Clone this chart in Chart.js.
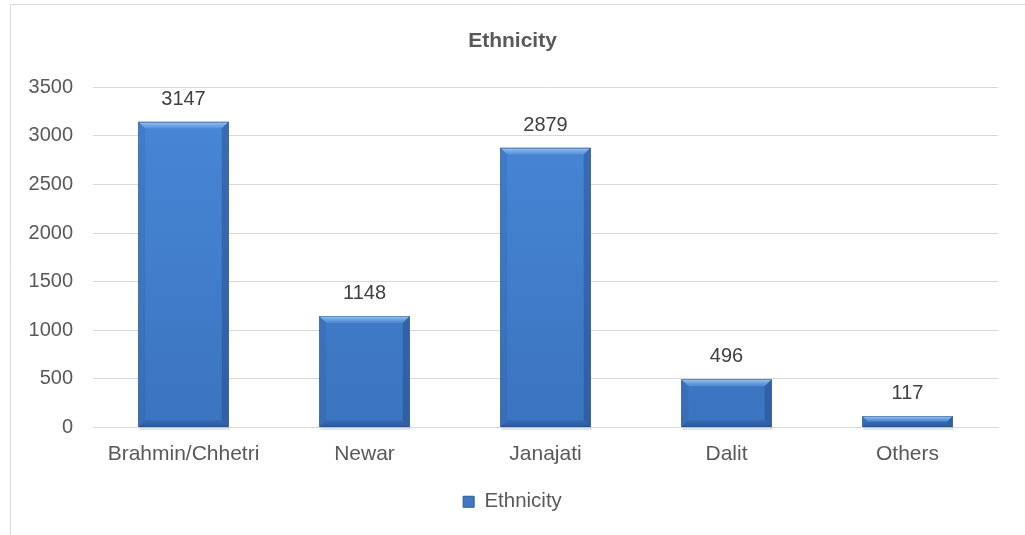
<!DOCTYPE html>
<html>
<head>
<meta charset="utf-8">
<title>Ethnicity</title>
<script src="https://cdn.jsdelivr.net/npm/chart.js@4.4.1/dist/chart.umd.min.js"></script>
<style>
    html, body { margin: 0; padding: 0; background: #fff; overflow: hidden; }
    #wrap { width: 1025px; height: 535px; position: relative; }
</style>
</head>
<body>
<div id="wrap"><canvas id="ethChart"></canvas></div>
<script>
// Data
const categories = ['Brahmin/Chhetri', 'Newar', 'Janajati', 'Dalit', 'Others'];
const counts = [3147, 1148, 2879, 496, 117];
const seriesName = 'Ethnicity';
const yTicks = [0, 500, 1000, 1500, 2000, 2500, 3000, 3500];

const FONT = "'Liberation Sans', Arial, sans-serif";

// Outer chart box (only left and top edges show in the picture)
const frameBorder = {
    id: 'frameBorder',
    beforeDraw(chart) {
        const ctx = chart.ctx;
        ctx.save();
        ctx.strokeStyle = '#d9d9d9';
        ctx.lineWidth = 1;
        ctx.beginPath();
        ctx.moveTo(10.5, chart.height);
        ctx.lineTo(10.5, 4.5);
        ctx.lineTo(chart.width, 4.5);
        ctx.stroke();
        ctx.restore();
    }
};

// Bevel look on each bar, using the bar elements the library laid out
const bevelBars = {
    id: 'bevelBars',
    beforeDatasetsDraw(chart) {
        // soft shadow under each bar
        const ctx = chart.ctx;
        const meta = chart.getDatasetMeta(0);
        ctx.save();
        ctx.fillStyle = 'rgba(0,0,0,0.10)';
        meta.data.forEach(function(bar) {
            const p = bar.getProps(['x', 'base', 'width'], true);
            ctx.fillRect(p.x - p.width / 2 + 1, p.base, p.width, 3);
        });
        ctx.restore();
    },
    afterDatasetsDraw(chart) {
        const ctx = chart.ctx;
        const meta = chart.getDatasetMeta(0);
        meta.data.forEach(function(bar) {
            const p = bar.getProps(['x', 'y', 'base', 'width'], true);
            const l = p.x - p.width / 2, r = p.x + p.width / 2;
            const t = p.y, b = p.base;
            const bv = Math.min(7, (b - t) / 2);
            ctx.save();
            // top
            let g = ctx.createLinearGradient(0, t, 0, t + bv);
            g.addColorStop(0, 'rgba(190,220,255,0.8)');
            g.addColorStop(1, 'rgba(140,190,245,0.2)');
            ctx.fillStyle = g;
            ctx.beginPath();
            ctx.moveTo(l, t); ctx.lineTo(r, t); ctx.lineTo(r - bv, t + bv); ctx.lineTo(l + bv, t + bv);
            ctx.closePath(); ctx.fill();
            // left
            ctx.fillStyle = 'rgba(20,50,100,0.10)';
            ctx.beginPath();
            ctx.moveTo(l, t); ctx.lineTo(l + bv, t + bv); ctx.lineTo(l + bv, b - bv); ctx.lineTo(l, b);
            ctx.closePath(); ctx.fill();
            // right
            ctx.fillStyle = 'rgba(10,30,80,0.25)';
            ctx.beginPath();
            ctx.moveTo(r, t); ctx.lineTo(r - bv, t + bv); ctx.lineTo(r - bv, b - bv); ctx.lineTo(r, b);
            ctx.closePath(); ctx.fill();
            // bottom
            g = ctx.createLinearGradient(0, b - bv, 0, b);
            g.addColorStop(0, 'rgba(10,30,80,0.10)');
            g.addColorStop(1, 'rgba(10,30,80,0.32)');
            ctx.fillStyle = g;
            ctx.beginPath();
            ctx.moveTo(l, b); ctx.lineTo(r, b); ctx.lineTo(r - bv, b - bv); ctx.lineTo(l + bv, b - bv);
            ctx.closePath(); ctx.fill();
            // outline
            ctx.strokeStyle = 'rgba(30,70,130,0.45)';
            ctx.lineWidth = 1;
            ctx.strokeRect(Math.round(l) + 0.5, Math.round(t) + 0.5, Math.round(r - l) - 1, Math.round(b - t) - 1);
            ctx.restore();
        });
    }
};

// Value labels above the bars
const valueLabels = {
    id: 'valueLabels',
    afterDatasetsDraw(chart) {
        const ctx = chart.ctx;
        const meta = chart.getDatasetMeta(0);
        ctx.save();
        ctx.font = '20px ' + FONT;
        ctx.fillStyle = '#404040';
        ctx.textAlign = 'center';
        ctx.textBaseline = 'alphabetic';
        meta.data.forEach(function(bar, i) {
            const p = bar.getProps(['x', 'y'], true);
            ctx.fillText(String(counts[i]), p.x, p.y - 17);
        });
        ctx.restore();
    }
};

function barFill(context) {
    const area = context.chart.chartArea;
    if (!area) return '#4380d0';
    const g = context.chart.ctx.createLinearGradient(0, area.top, 0, area.bottom);
    g.addColorStop(0, '#4888d8');
    g.addColorStop(1, '#3b74c0');
    return g;
}

new Chart(document.getElementById('ethChart'), {
    type: 'bar',
    data: {
        labels: categories,
        datasets: [{
            label: seriesName,
            data: counts,
            backgroundColor: barFill,
            borderWidth: 0,
            barPercentage: 0.5,
            categoryPercentage: 1.0
        }]
    },
    plugins: [frameBorder, bevelBars, valueLabels],
    options: {
        responsive: true,
        maintainAspectRatio: false,
        animation: false,
        // left padding nudges title and legend to the right, like the original box
        layout: { padding: { left: 27, right: 27, top: 0, bottom: 13 } },
        plugins: {
            title: {
                display: true,
                text: seriesName,
                color: '#595959',
                font: { family: FONT, size: 21, weight: 'bold' },
                padding: { top: 29, bottom: 33 }
            },
            legend: {
                display: true,
                position: 'bottom',
                labels: {
                    color: '#595959',
                    font: { family: FONT, size: 20.5 },
                    boxWidth: 11,
                    boxHeight: 11,
                    padding: 10,
                    generateLabels: function() {
                        return [{
                            text: seriesName,
                            fillStyle: '#3f78c4',
                            strokeStyle: '#2c5a98',
                            fontColor: '#595959',
                            lineWidth: 1,
                            datasetIndex: 0,
                            hidden: false
                        }];
                    }
                }
            },
            tooltip: { enabled: false }
        },
        scales: {
            x: {
                grid: { display: false, drawTicks: false },
                border: { display: true, color: '#d9d9d9', width: 1 },
                ticks: {
                    color: '#595959',
                    font: { family: FONT, size: 21 },
                    padding: 14,
                    maxRotation: 0
                },
                afterFit: function(scale) { scale.height = 54; }
            },
            y: {
                min: 0,
                max: yTicks[yTicks.length - 1],
                afterBuildTicks: function(scale) {
                    scale.ticks = yTicks.map(v => ({ value: v }));
                },
                grid: { color: '#d9d9d9', lineWidth: 1, drawTicks: false },
                border: { display: false },
                ticks: {
                    color: '#595959',
                    font: { family: FONT, size: 20 },
                    padding: 20,
                    callback: function(value) { return String(value); }
                },
                afterFit: function(scale) { scale.width = 66; }
            }
        }
    }
});
</script>
</body>
</html>
